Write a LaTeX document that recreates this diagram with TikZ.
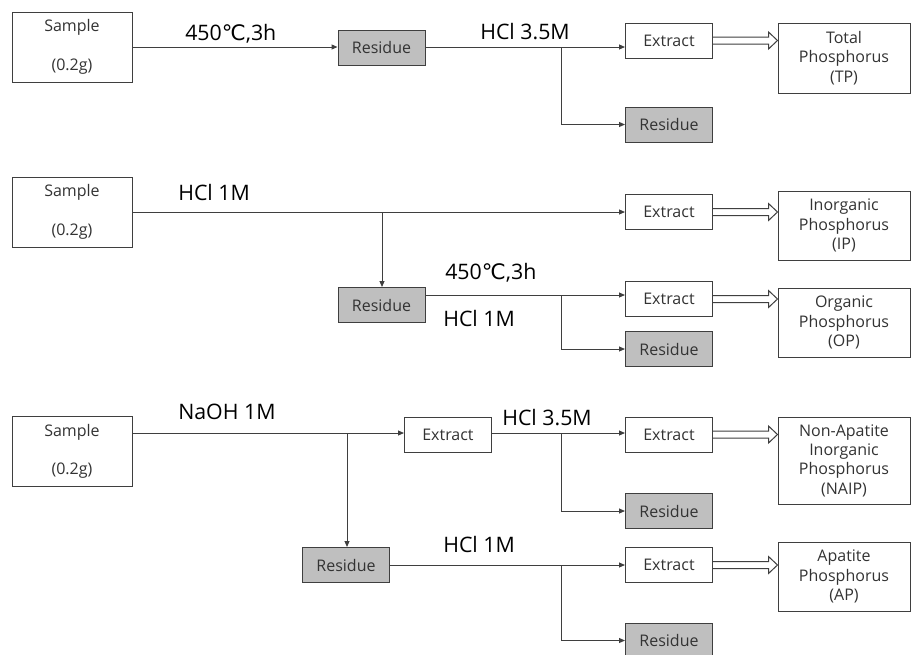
\documentclass[tikz,border=0pt]{standalone}
\usepackage{fontspec}
\setmainfont{Open Sans}
\newfontfamily\symfont{DejaVu Sans}
\usetikzlibrary{arrows.meta, calc}
\definecolor{residueGray}{HTML}{BFBFBF}
\definecolor{lineDark}{HTML}{3F3F3F}
\tikzset{
  samplebox/.style={draw=lineDark, line width=0.75pt, fill=white, minimum width=90pt, minimum height=52.5pt,
    align=center, font=\fontsize{12}{14.5}\selectfont, text=black!80, inner sep=0pt},
  residuebox/.style={draw=lineDark, line width=0.75pt, fill=residueGray, minimum width=65.25pt, minimum height=26.25pt,
    font=\fontsize{12}{14.5}\selectfont, text=black!80, inner sep=0pt},
  extractbox/.style={residuebox, fill=white},
  resultbox/.style={draw=lineDark, line width=0.75pt, fill=white, minimum width=99pt, minimum height=52.5pt,
    align=center, font=\fontsize{12}{14.5}\selectfont, text=black!80, inner sep=0pt},
  steplabel/.style={font=\fontsize{16}{19}\selectfont, anchor=base west, inner sep=0pt},
  flowarr/.style={-{Triangle[length=4.5pt, width=3.75pt]}, lineDark, line width=0.75pt},
}
\newcommand{\hollowarr}[2]{%
  \coordinate (hatip) at (#1.east -| #2.west);
  \draw[lineDark, line width=0.75pt, fill=white]
    ($(#1.east)+(0,-3.5)$) -- ($(hatip)+(-9,-3.5)$) -- ($(hatip)+(-9,-8.5)$) -- (hatip)
    -- ($(hatip)+(-9,8.5)$) -- ($(hatip)+(-9,3.5)$) -- ($(#1.east)+(0,3.5)$);}

\begin{document}
\begin{tikzpicture}[x=0.75pt, y=-0.75pt]
  \useasboundingbox (0,0) rectangle (911,654);

  % total phosphorus
  \node[samplebox] (s1) at (72,47) {Sample\\[14.5pt](0.2g)};
  \node[residuebox] (r1) at (381.5,47.5) {Residue};
  \node[extractbox] (e1) at (669,40.5) {Extract};
  \node[residuebox] (rr1) at (669,124.5) {Residue};
  \node[resultbox] (tp) at (844,58) {Total\\Phosphorus\\(TP)};
  \coordinate (b1) at (561,47);
  \node[steplabel] (t1) at (185,40.5) {450{\symfont ℃},3h};
  \node[steplabel] (t2) at (480,39.5) {HCl 3.5M};
  \draw[flowarr] (s1.east) -- (s1.east -| r1.west);
  \draw[flowarr] (r1.east |- b1) -- (b1 -| e1.west);
  \draw[flowarr] (b1) |- (rr1);
  \hollowarr{e1}{tp}

  % inorganic / organic phosphorus
  \node[samplebox] (s2) at (72,212) {Sample\\[14.5pt](0.2g)};
  \node[extractbox] (e2) at (669,212) {Extract};
  \node[resultbox, minimum height=51.75pt] (ip) at (844,225.5) {Inorganic\\Phosphorus\\(IP)};
  \coordinate (b2) at (382,212);
  \node[residuebox] (r2) at (381.5,305) {Residue};
  \coordinate (b3) at (561,295);
  \node[extractbox] (e3) at (669,299) {Extract};
  \node[residuebox] (rr2) at (669,349) {Residue};
  \node[resultbox, minimum height=51.75pt] (op) at (844,322.5) {Organic\\Phosphorus\\(OP)};
  \node[steplabel] (t3) at (178,200) {HCl 1M};
  \node[steplabel] (t4) at (445,279) {450{\symfont ℃},3h};
  \node[steplabel] (t5) at (443,326) {HCl 1M};
  \draw[flowarr] (s2) -- (e2);
  \draw[flowarr] (b2) -- (b2 |- r2.north);
  \draw[flowarr] ($(r2.east)+(0,-10)$) -- (b3 -| e3.west);
  \draw[flowarr] (b3) |- (rr2);
  \hollowarr{e2}{ip}
  \hollowarr{e3}{op}

  % non-apatite / apatite phosphorus
  \node[samplebox] (s3) at (72,451.5) {Sample\\[14.5pt](0.2g)};
  \coordinate (b4) at (347,433);
  \node[extractbox] (e4) at (448,434.5) {Extract};
  \node[residuebox] (r3) at (346,565) {Residue};
  \coordinate (b5) at (561,433);
  \node[extractbox] (e5) at (669,434.5) {Extract};
  \node[residuebox] (rr3) at (669,511) {Residue};
  \node[resultbox, minimum height=65.25pt] (naip) at (844,460.5) {Non-Apatite\\Inorganic\\Phosphorus\\(NAIP)};
  \coordinate (b6) at (561,565);
  \node[extractbox] (e6) at (669,565) {Extract};
  \node[residuebox] (rr4) at (669,640.5) {Residue};
  \node[resultbox, minimum height=51.75pt] (ap) at (844,576.5) {Apatite\\Phosphorus\\(AP)};
  \node[steplabel] (t6) at (178,419) {NaOH 1M};
  \node[steplabel] (t7) at (502,425) {HCl 3.5M};
  \node[steplabel] (t8) at (443,552) {HCl 1M};
  \draw[flowarr] (s3.east |- b4) -- (b4 -| e4.west);
  \draw[flowarr] (b4) -- (b4 |- r3.north);
  \draw[flowarr] (e4.east |- b5) -- (b5 -| e5.west);
  \draw[flowarr] (b5) |- (rr3);
  \draw[flowarr] (r3) -- (e6);
  \draw[flowarr] (b6) |- (rr4);
  \hollowarr{e5}{naip}
  \hollowarr{e6}{ap}
\end{tikzpicture}
\end{document}
